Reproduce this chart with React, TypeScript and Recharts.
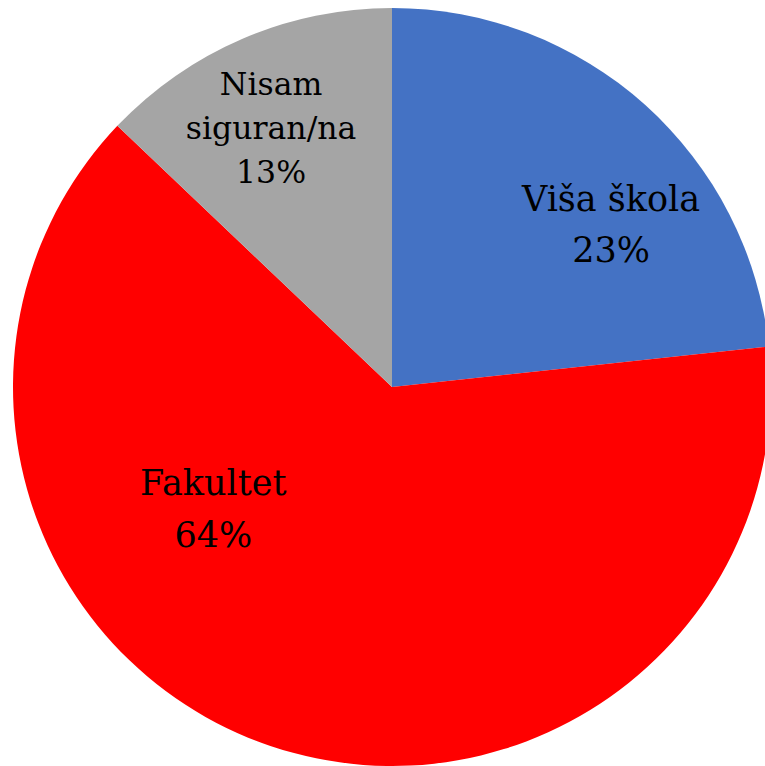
import { PieChart, Pie, Cell } from "recharts";

const categories = ["Viša škola", "Fakultet", "Nisam siguran/na"];
const shares = [23.3, 63.8, 12.9];
const labelLines = [["Viša škola"], ["Fakultet"], ["Nisam", "siguran/na"]];

const colors = ["#4472C4", "#FF0000", "#A5A5A5"];
// label placement per slice: polar angle (deg, ccw from +x) and radius fraction
const labelAngle = [36.6, 214.2, 115];
const labelRadius = [0.72, 0.57, 0.755];
const labelSize = [35, 35, 31.5];
const lineGap = [51, 52, 44];

const data = categories.map((name, i) => ({ name, value: shares[i] }));
const total = shares.reduce((a, b) => a + b, 0);

const RADIAN = Math.PI / 180;

function renderLabel(props: any) {
  const { cx, cy, outerRadius, index, value } = props;
  const a = labelAngle[index] * RADIAN;
  const r = outerRadius * labelRadius[index];
  const x = cx + r * Math.cos(a);
  const y = cy - r * Math.sin(a);
  const lines = [...labelLines[index], `${Math.round((value / total) * 100)}%`];
  const gap = lineGap[index];
  const size = labelSize[index];
  const firstBaseline = y - ((lines.length - 1) * gap) / 2 + size * 0.36;
  return (
    <text
      x={x}
      y={firstBaseline}
      textAnchor="middle"
      fill="#000"
      style={{ fontFamily: "'DejaVu Serif', serif", fontSize: size }}
    >
      {lines.map((t, k) => (
        <tspan key={k} x={x} y={firstBaseline + k * gap}>
          {t}
        </tspan>
      ))}
    </text>
  );
}

export default function App() {
  return (
    <div style={{ position: "absolute", left: 0, top: 0, width: 765, height: 766, background: "#fff" }}>
      <PieChart width={765} height={766} margin={{ top: 0, right: 0, bottom: 0, left: 0 }}>
        <Pie
          data={data}
          dataKey="value"
          nameKey="name"
          cx={392}
          cy={387}
          outerRadius={379}
          startAngle={90}
          endAngle={-270}
          stroke="none"
          labelLine={false}
          label={renderLabel}
          isAnimationActive={false}
        >
          {data.map((d, i) => (
            <Cell key={d.name} fill={colors[i]} />
          ))}
        </Pie>
      </PieChart>
    </div>
  );
}
